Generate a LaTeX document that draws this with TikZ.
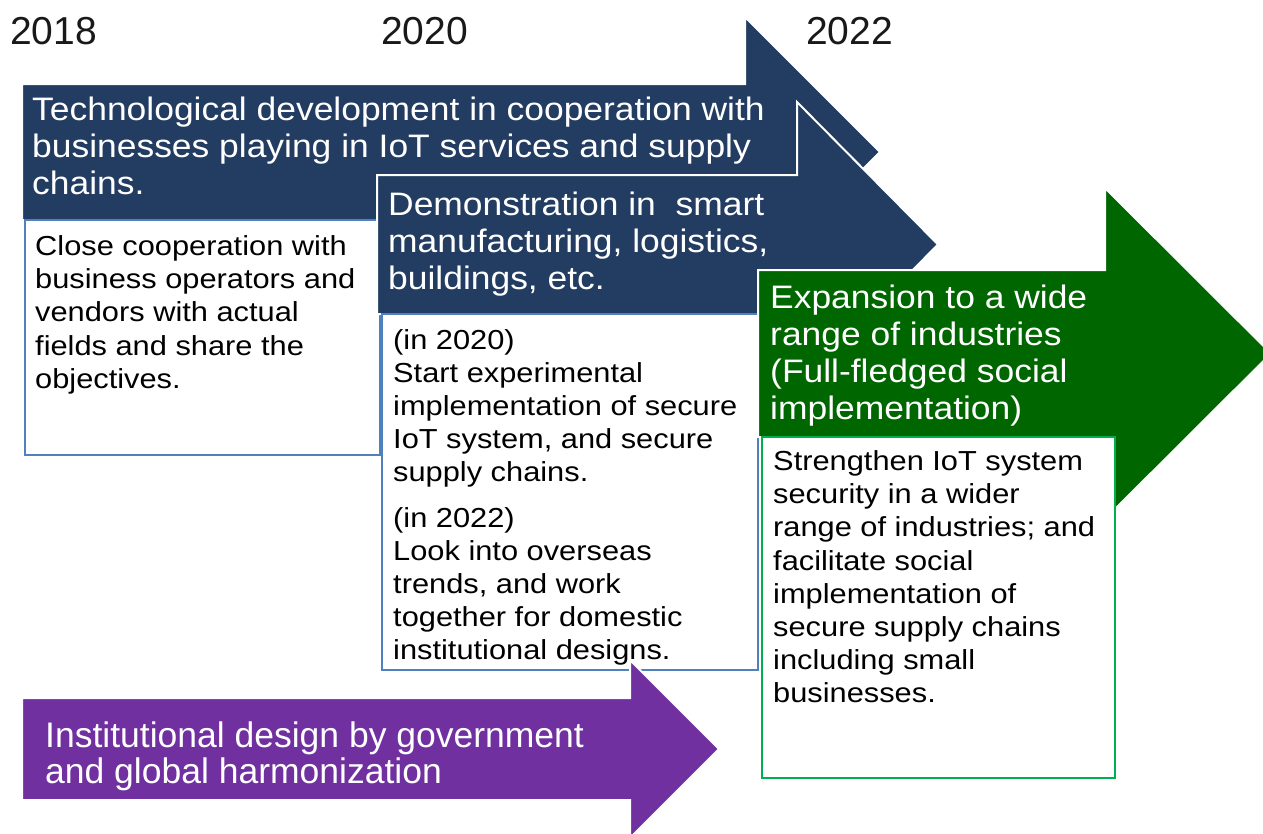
\documentclass[tikz,border=0pt]{standalone}
\usepackage{fontspec}
\setmainfont{Liberation Sans}
\newfontfamily\widesans{Liberation Sans}[FakeStretch=1.09]
\newfontfamily\boxsans{Liberation Sans}[FakeStretch=1.12]
\definecolor{navy}{RGB}{35, 60, 98}
\definecolor{leaf}{RGB}{0, 102, 0}
\definecolor{plum}{RGB}{112, 48, 160}
\definecolor{lineblue}{RGB}{79, 129, 189}
\definecolor{linegreen}{RGB}{0, 176, 80}

\begin{document}
\begin{tikzpicture}[
  every node/.style={inner sep=0pt, anchor=north west, align=left},
  yearlabel/.style={font=\fontsize{39}{44}\selectfont, text=black!90, anchor=base west},
  arrowtext/.style={font=\widesans\fontsize{32.5}{37}\selectfont, text=white},
  plumtext/.style={font=\fontsize{35.5}{36}\selectfont, text=white},
  boxtext/.style={font=\boxsans\fontsize{27.5}{33.2}\selectfont, text=black},
  arrowshape/.style={draw=white, line width=2pt},
  boxframe/.style={fill=white, line width=2pt}]
\useasboundingbox (0pt, 0pt) rectangle (1263pt, -833pt);
\clip (0pt, 0pt) rectangle (1263pt, -833pt);
% years
\node (y2018) [yearlabel] at (10pt, -44pt) {2018};
\node (y2020) [yearlabel] at (381pt, -44pt) {2020};
\node (y2022) [yearlabel] at (806pt, -44pt) {2022};
% first stage
\fill [arrowshape, fill=navy] (22pt, -84pt) -- (745pt, -84pt) -- (745pt, -17pt) -- (880pt, -152pt) -- (745pt, -287pt) -- (745pt, -220pt) -- (22pt, -220pt) -- cycle;
\node (tech) [arrowtext] at (32pt, -96.7pt) {Technological development in cooperation with\\businesses playing in IoT services and supply\\chains.};
\filldraw [boxframe, draw=lineblue] (25pt, -220pt) rectangle (380pt, -455pt);
\node (coop) [boxtext] at (35pt, -235.3pt) {Close cooperation with\\business operators and\\vendors with actual\\fields and share the\\objectives.};
% second stage
\fill [arrowshape, fill=navy] (377pt, -175pt) -- (797pt, -175pt) -- (797pt, -102pt) -- (938pt, -244.5pt) -- (797pt, -387pt) -- (797pt, -314pt) -- (377pt, -314pt) -- cycle;
\node (demo) [arrowtext] at (388pt, -191.7pt) {Demonstration in\ \ smart\\manufacturing, logistics,\\buildings, etc.};
\filldraw [boxframe, draw=lineblue] (382pt, -314pt) rectangle (758pt, -670pt);
\node (trial) [boxtext] at (393pt, -329pt) {(in 2020)\\Start experimental\\implementation of secure\\IoT system, and secure\\supply chains.\\[12pt](in 2022)\\Look into overseas\\trends, and work\\together for domestic\\institutional designs.};
% third stage
\fill [arrowshape, fill=leaf] (758pt, -270pt) -- (1105pt, -270pt) -- (1105pt, -188pt) -- (1271pt, -353.5pt) -- (1105pt, -519pt) -- (1105pt, -437pt) -- (758pt, -437pt) -- cycle;
\node (expand) [arrowtext] at (770pt, -284.7pt) {Expansion to a wide\\range of industries\\(Full-fledged social\\implementation)};
\filldraw [boxframe, draw=linegreen] (762pt, -437pt) rectangle (1115pt, -778pt);
\node (strength) [boxtext] at (773pt, -450.3pt) {Strengthen IoT system\\security in a wider\\range of industries; and\\facilitate social\\implementation of\\secure supply chains\\including small\\businesses.};
% government track
\fill [arrowshape, fill=plum] (22pt, -698pt) -- (630pt, -698pt) -- (630pt, -660pt) -- (719pt, -749pt) -- (630pt, -838pt) -- (630pt, -800pt) -- (22pt, -800pt) -- cycle;
\node (gov) [plumtext] at (45pt, -721.6pt) {Institutional design by government\\and global harmonization};
\end{tikzpicture}
\end{document}
